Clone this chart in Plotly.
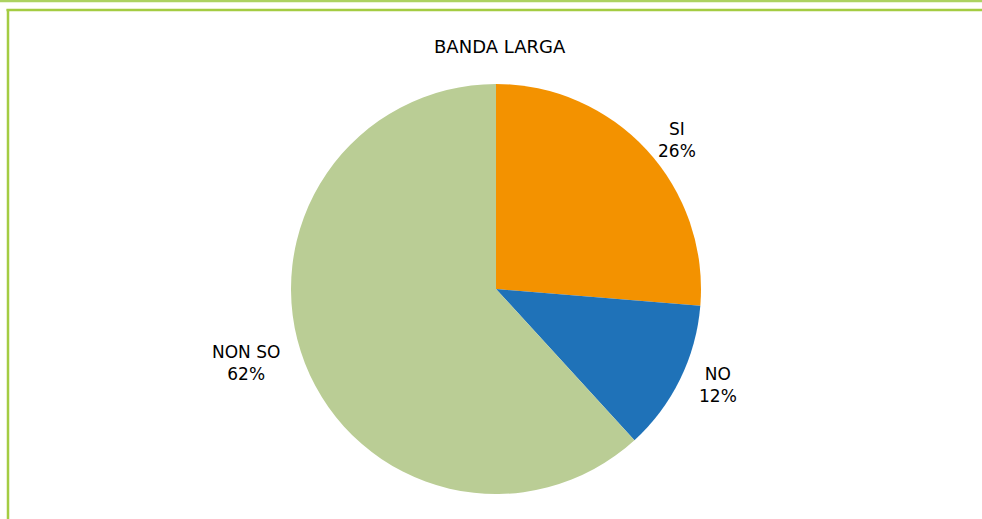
import plotly.graph_objects as go

labels = ["SI", "NO", "NON SO"]
values = [26.3, 11.9, 61.8]
colors = ["#f39200", "#1f72b8", "#bacd95"]
title_text = "BANDA LARGA"

W, H = 982, 519
cx, cy, r = 496, 289, 205

fig = go.Figure(go.Pie(
    labels=labels,
    values=values,
    marker=dict(colors=colors, line=dict(width=0)),
    sort=False,
    direction="clockwise",
    rotation=0,
    textinfo="none",
    hoverinfo="label+percent",
    showlegend=False,
    domain=dict(x=[(cx - r) / W, (cx + r) / W], y=[(H - cy - r) / H, (H - cy + r) / H]),
))

# label annotations placed near slices
label_pos = [(677, 140), (718, 385), (246, 363)]
total = sum(values)
font = "DejaVu Sans"
for lab, v, (px, py) in zip(labels, values, label_pos):
    fig.add_annotation(
        x=px / W, y=1 - py / H, xref="paper", yref="paper",
        text=f"{lab}<br>{round(100 * v / total)}%",
        showarrow=False, font=dict(family=font, size=17, color="#000000"),
        align="center", xanchor="center", yanchor="middle",
    )

fig.add_annotation(
    x=500 / W, y=1 - 46 / H, xref="paper", yref="paper",
    text=title_text, showarrow=False,
    font=dict(family=font, size=18, color="#000000"),
    xanchor="center", yanchor="middle",
)

green = "#a4cc42"
# frame lines
fig.add_shape(type="line", xref="paper", yref="paper", x0=0, x1=1, y0=1 - 1 / H, y1=1 - 1 / H,
              line=dict(color="#acd262", width=2.5))
fig.add_shape(type="line", xref="paper", yref="paper", x0=6.5 / W, x1=1, y0=1 - 10 / H, y1=1 - 10 / H,
              line=dict(color=green, width=2.5))
fig.add_shape(type="line", xref="paper", yref="paper", x0=8 / W, x1=8 / W, y0=0, y1=1 - 9 / H,
              line=dict(color=green, width=2.5))

fig.update_layout(
    width=W, height=H,
    margin=dict(l=0, r=0, t=0, b=0),
    paper_bgcolor="#ffffff",
    plot_bgcolor="#ffffff",
    font=dict(family=font),
)

fig.write_html("out.html", config={"displayModeBar": False},
               post_script="document.body.style.margin='0';document.body.style.overflow='hidden';")
